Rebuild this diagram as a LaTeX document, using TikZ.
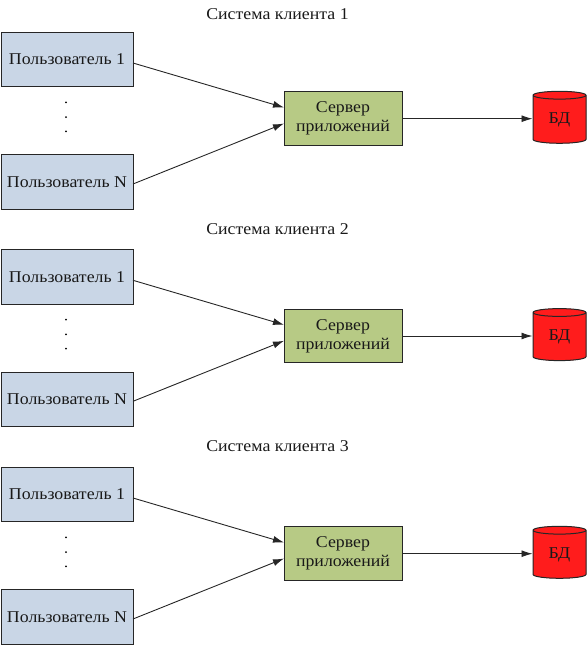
\documentclass[tikz,border=0pt]{standalone}
\usepackage{fontspec}
\setmainfont[FakeStretch=1.08]{Liberation Serif}
\usetikzlibrary{shapes.geometric,arrows.meta}
\definecolor{userblue}{HTML}{C9D6E6}
\definecolor{servergreen}{HTML}{B7CA85}
\definecolor{dbred}{HTML}{FF1C1C}
\tikzset{
  x=1pt,y=-1pt,
  txt/.style={font=\fontsize{16.5}{19}\selectfont,align=center,text=black!90},
  userbox/.style={txt,draw=black!85,fill=userblue,line width=1pt,minimum width=132pt,minimum height=54.5pt,inner sep=0pt},
  serverbox/.style={txt,draw=black!85,fill=servergreen,line width=1pt,minimum width=118pt,minimum height=53.5pt,inner sep=0pt},
  dbshape/.style={txt,draw=black!85,fill=dbred,line width=1pt,shape=cylinder,shape border rotate=90,aspect=0.36,minimum width=53pt,minimum height=52pt,inner sep=0pt,cylinder uses custom fill,cylinder body fill=dbred,cylinder end fill=dbred},
  link/.style={draw=black!85,line width=0.9pt,-{Latex[length=11pt,width=7pt]}},
  dotmark/.style={circle,fill=black,inner sep=0pt,minimum size=2pt},
  heading/.style={txt}
}
\begin{document}
\begin{tikzpicture}
\useasboundingbox (0,0) rectangle (587,645);
\foreach \i/\d/\h in {1/0/13.8,2/217.3/12.2,3/435/11.6} {
  \begin{scope}[yshift=-\d pt]
    \node[heading] (t\i) at (277.5,\h) {Система клиента \i};
    \node[userbox] (ua\i) at (67,59.5) {\raisebox{-0.7pt}{Пользователь 1}};
    \node[userbox] (un\i) at (67,182) {\raisebox{-0.7pt}{Пользователь N}};
    \node[serverbox] (s\i) at (343,118.7) {Сервер\\приложений};
    \node[dbshape] (d\i) at (559.5,119.5) {\raisebox{-1.5pt}{БД}};
    \node[dotmark] (da\i) at (66,102.3) {};
    \node[dotmark] (db\i) at (66,117) {};
    \node[dotmark] (dc\i) at (66,131.3) {};
    \coordinate (uao\i) at (133,63);
    \coordinate (sa\i) at (284,107.5);
    \coordinate (uno\i) at (133,184);
    \coordinate (sb\i) at (284,123.5);
    \draw[link] (uao\i) -- (sa\i);
    \draw[link] (uno\i) -- (sb\i);
    \draw[link] (s\i.east) -- (s\i.east -| d\i.west);
  \end{scope}
}
\end{tikzpicture}
\end{document}
